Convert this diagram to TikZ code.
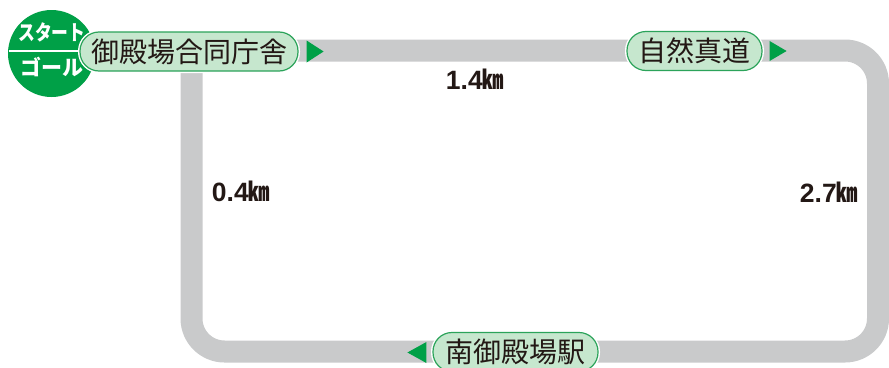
\documentclass[tikz,border=0pt]{standalone}
\usepackage{fontspec}
\usepackage{graphicx}
\setmainfont{Liberation Sans}
\newfontfamily\cjk{Noto Sans CJK JP}
\usetikzlibrary{calc}
\definecolor{sgreen}{HTML}{00A047}
\definecolor{pfill}{HTML}{C6E7CE}
\definecolor{pgreen}{HTML}{2BA35A}
\definecolor{roadgray}{HTML}{C9CACB}
\definecolor{ink}{HTML}{231815}
\tikzset{
  road/.style={draw=roadgray, line width=22pt, line cap=rect},
  pill/.style={draw=pgreen, fill=pfill, line width=1.2pt, rounded corners=19pt,
    minimum height=39pt, inner sep=0pt, text=ink,
    font=\cjk\fontsize{28}{28}\selectfont,
    preaction={draw=white, line width=4pt}},
  dist/.style={text=ink, inner sep=0pt, font=\bfseries\fontsize{26.5}{26.5}\selectfont},
  arrowtri/.style={fill=sgreen},
  circtext/.style={text=white, inner sep=0pt, font=\cjk\bfseries\fontsize{21}{21}\selectfont}
}
\newcommand{\kmunit}{\scalebox{0.8}[1]{\cjk\bfseries ㎞}}
\begin{document}
\begin{tikzpicture}[x=1pt,y=-1pt]
\useasboundingbox (0,0) rectangle (889,367);
% road
\draw[road, rounded corners=33pt] (191.5,50.5) -- (878,50.5) -- (878,351.5) -- (191.5,351.5) -- (191.5,50.5);
% start / goal circle
\node[circle, fill=sgreen, minimum size=87pt, inner sep=0pt] (start) at (51.5,53.5) {};
\draw[white, line width=1.6pt] (8.5,51) -- (84,51);
\node[circtext] (st) at (52,32) {\scalebox{0.8}[1]{スタート}};
\node[circtext] (gl) at (52,67) {ゴール};
% station labels
\node[pill, minimum width=218pt] (p1) at (189,51.5) {御殿場合同庁舎};
\node[pill, minimum width=135pt] (p2) at (694.5,51) {自然真道};
\node[pill, minimum width=165pt] (p3) at (515.5,352) {南御殿場駅};
% direction arrows
\fill[arrowtri] ($(p1.east)+(8,-11)$) -- ++(17,11) -- ++(-17,11) -- cycle;
\fill[arrowtri] ($(p2.east)+(7,-10)$) -- ++(17,10) -- ++(-17,10) -- cycle;
\fill[arrowtri] ($(p3.west)+(-25,0.5)$) -- ++(19,-10.5) -- ++(0,21) -- cycle;
% distances
\node[dist] (d1) at (475,79) {1.4\kmunit};
\node[dist] (d2) at (241,191) {0.4\kmunit};
\node[dist] (d3) at (829,192) {2.7\kmunit};
\end{tikzpicture}
\end{document}
